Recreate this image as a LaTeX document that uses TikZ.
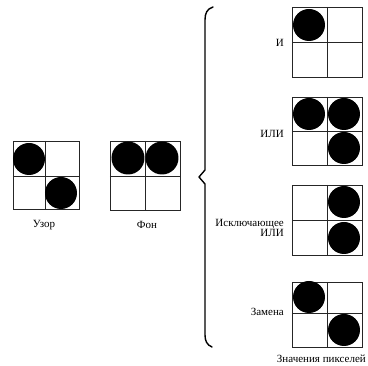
\documentclass[tikz,border=0pt]{standalone}
\usepackage{fontspec}
\setmainfont{Liberation Serif}
\begin{document}
\begin{tikzpicture}[x=1pt,y=-1pt,
  gridline/.style={draw=black!85,line width=0.8pt},
  dot/.style={fill=black},
  lbl/.style={font=\fontsize{11}{11}\selectfont,inner sep=0pt},
  brace/.style={draw=black,line width=1.4pt,line cap=round,line join=round}]
\useasboundingbox (0,0) rectangle (368,366);
\newcommand\pixgrid[6]{% x0 y0 x1 y1 midx midy
  \draw[gridline] (#1,#2) rectangle (#3,#4);
  \draw[gridline] (#5,#2) -- (#5,#4);
  \draw[gridline] (#1,#6) -- (#3,#6);}
% Uzor
\pixgrid{13}{141}{79}{209}{45}{176}
\fill[dot] (29,159) circle (16);
\fill[dot] (61,193) circle (16);
\node[lbl] (uzor) at (44,225) {Узор};
% Fon
\pixgrid{110}{141}{180}{210}{145}{176}
\fill[dot] (128,158) circle (16.5);
\fill[dot] (162,158) circle (16.5);
\node[lbl] (fon) at (147,225) {Фон};
% brace
\draw[brace] (213,7) .. controls (207,9) and (205,13) .. (205,20) -- (205,170) -- (199,177) -- (205,184) -- (205,335) .. controls (205,341) and (207,345) .. (212,347);
% AND
\pixgrid{292}{7}{362}{77}{327}{42}
\fill[dot] (309,25) circle (16);
\node[lbl,anchor=east] (and) at (284,43) {И};
% OR
\pixgrid{292}{97}{362}{165}{327}{131}
\fill[dot] (309,114) circle (16);
\fill[dot] (344,114) circle (16);
\fill[dot] (344,148) circle (16);
\node[lbl,anchor=east] (or) at (284,134) {ИЛИ};
% XOR
\pixgrid{292}{185}{362}{255}{327}{220}
\fill[dot] (344,202) circle (16);
\fill[dot] (344,238) circle (16);
\node[lbl,anchor=east,align=right] (xor) at (284,228) {Исключающее\\[-1pt]ИЛИ};
% Replace
\pixgrid{292}{282}{362}{347}{327}{313}
\fill[dot] (309,297) circle (16);
\fill[dot] (344,330) circle (16);
\node[lbl,anchor=east] (rep) at (284,312) {Замена};
\node[lbl,anchor=east] (vals) at (366,359) {Значения пикселей};
\end{tikzpicture}
\end{document}
